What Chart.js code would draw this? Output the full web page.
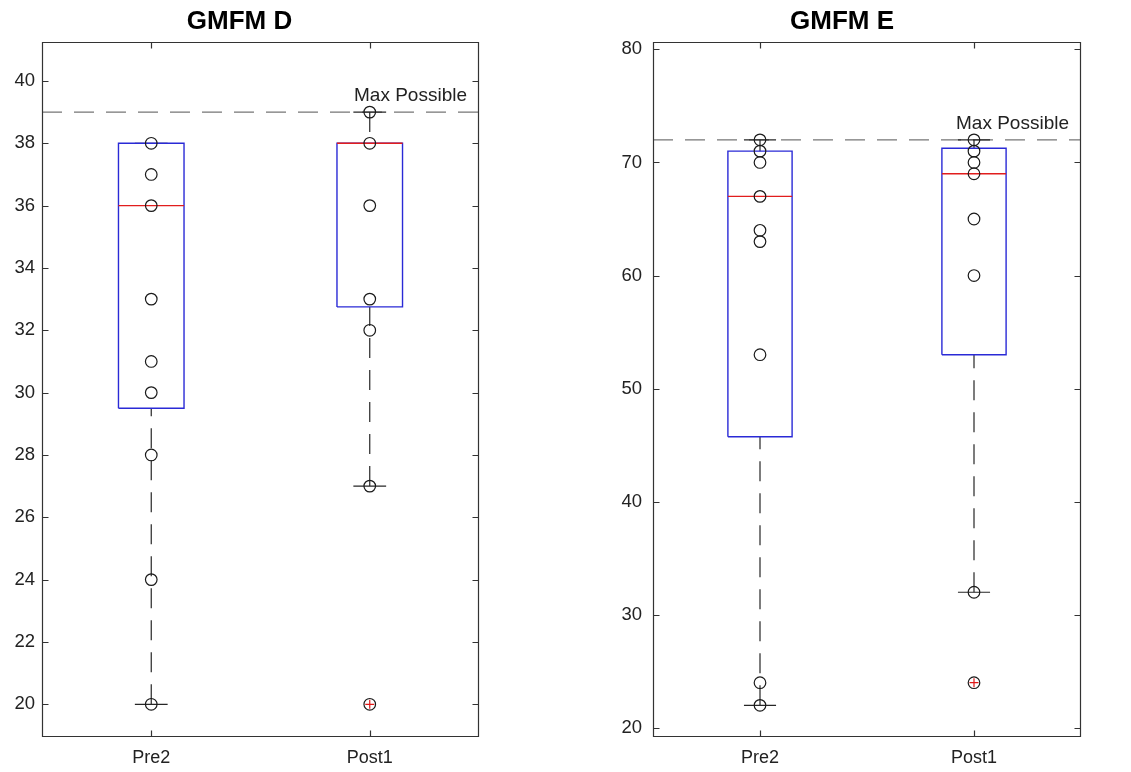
<!DOCTYPE html>
<html>
<head>
<meta charset="utf-8">
<script src="https://cdn.jsdelivr.net/npm/chart.js@4.4.1/dist/chart.umd.min.js"></script>
<style>
  html, body { margin: 0; padding: 0; background: #fff; }
  body { width: 1131px; height: 772px; position: relative; overflow: hidden; }
  .wrap { position: absolute; top: 0; height: 772px; }
  #wrapD { left: 0; width: 521px; }
  #wrapE { left: 603px; width: 528px; }
</style>
</head>
<body>
<div class="wrap" id="wrapD"><canvas id="chartD"></canvas></div>
<div class="wrap" id="wrapE"><canvas id="chartE"></canvas></div>
<script>
// ---------- DATA ----------
const categories = ['Pre2', 'Post1'];

// GMFM D
const dTitle = 'GMFM D';
const dYTicks = [20, 22, 24, 26, 28, 30, 32, 34, 36, 38, 40];
const dYRange = [18.95, 41.25];
const dPre2Points = [38, 37, 36, 33, 31, 30, 28, 24, 20];
const dPost1Points = [39, 38, 36, 33, 32, 27, 20];
const dQ1 = [29.5, 32.75];
const dMedian = [36, 38];
const dQ3 = [38, 38];
const dWhiskerLow = [20, 27];
const dWhiskerHigh = [38, 39];
const dOutliers = [[], [20]];
const dMaxPossible = 39;

// GMFM E
const eTitle = 'GMFM E';
const eYTicks = [20, 30, 40, 50, 60, 70, 80];
const eYRange = [19.2, 80.65];
const ePre2Points = [72, 71, 70, 67, 64, 63, 53, 24, 22];
const ePost1Points = [72, 71, 70, 69, 65, 60, 32, 24];
const eQ1 = [45.75, 53];
const eMedian = [67, 69];
const eQ3 = [71, 71.25];
const eWhiskerLow = [22, 32];
const eWhiskerHigh = [72, 72];
const eOutliers = [[], [24]];
const eMaxPossible = 72;

const maxLabel = 'Max Possible';

// ---------- STYLE ----------
const FONT = '"Liberation Sans", Arial, Helvetica, sans-serif';
const BOX_HALF = 0.15;
const CAP_HALF = 0.075;
const AXIS_COLOR = '#333333';
const TEXT_COLOR = '#222222';

Chart.defaults.font.family = FONT;
Chart.defaults.color = TEXT_COLOR;

function lineDS(points, color, width, dash, order) {
  return {
    type: 'line', data: points, showLine: true, borderColor: color,
    borderWidth: width, borderDash: dash || [], pointRadius: 0,
    fill: false, tension: 0, order: order
  };
}

function buildDatasets(groups, q1, med, q3, wLo, wHi, outliers, maxVal) {
  const ds = [];
  ds.push(lineDS([{x: 0.5, y: maxVal}, {x: 2.5, y: maxVal}], '#767676', 1.2, [20, 12], 9));
  groups.forEach((pts, i) => {
    const c = i + 1;
    ds.push(lineDS([{x: c, y: wLo[i]}, {x: c, y: q1[i]}], '#262626', 1.2, [20, 12], 8));
    ds.push(lineDS([{x: c, y: wHi[i]}, {x: c, y: q3[i]}], '#262626', 1.2, [20, 12], 8));
    ds.push(lineDS([{x: c - CAP_HALF, y: wLo[i]}, {x: c + CAP_HALF, y: wLo[i]}], '#262626', 1.2, [], 7));
    ds.push(lineDS([{x: c - CAP_HALF, y: wHi[i]}, {x: c + CAP_HALF, y: wHi[i]}], '#262626', 1.2, [], 7));
    ds.push(lineDS([
      {x: c - BOX_HALF, y: q1[i]}, {x: c - BOX_HALF, y: q3[i]},
      {x: c + BOX_HALF, y: q3[i]}, {x: c + BOX_HALF, y: q1[i]},
      {x: c - BOX_HALF, y: q1[i]}
    ], '#2a2ad6', 1.4, [], 6));
    ds.push(lineDS([{x: c - BOX_HALF, y: med[i]}, {x: c + BOX_HALF, y: med[i]}], '#e11d1d', 1.4, [], 5));
    if (outliers[i].length) {
      ds.push({
        type: 'scatter', data: outliers[i].map(v => ({x: c, y: v})),
        pointStyle: 'cross', pointRadius: 4.5, borderColor: '#e01818',
        borderWidth: 1.2, order: 4
      });
    }
    ds.push({
      type: 'scatter', data: pts.map(v => ({x: c, y: v})),
      pointStyle: 'circle', pointRadius: 5.8, pointBorderColor: '#1a1a1a',
      pointBackgroundColor: 'rgba(0,0,0,0)', pointBorderWidth: 1.2, order: 3
    });
  });
  return ds;
}

const framePlugin = {
  id: 'matlabFrame',
  afterDatasetsDraw(chart, args, opts) {
    const {ctx, chartArea: a, scales} = chart;
    ctx.save();
    ctx.strokeStyle = AXIS_COLOR;
    ctx.lineWidth = 1.2;
    const L = Math.round(a.left) + 0.5, R = Math.round(a.right) - 0.5;
    const T = Math.round(a.top) + 0.5, B = Math.round(a.bottom) - 0.5;
    ctx.beginPath();
    ctx.rect(L, T, R - L, B - T);
    scales.y.ticks.forEach(t => {
      const y = Math.round(scales.y.getPixelForValue(t.value)) + 0.5;
      ctx.moveTo(L, y); ctx.lineTo(L + 6, y);
      ctx.moveTo(R, y); ctx.lineTo(R - 6, y);
    });
    scales.x.ticks.forEach(t => {
      const x = Math.round(scales.x.getPixelForValue(t.value)) + 0.5;
      ctx.moveTo(x, T); ctx.lineTo(x, T + 6);
      ctx.moveTo(x, B); ctx.lineTo(x, B - 6);
    });
    ctx.stroke();
    ctx.fillStyle = TEXT_COLOR;
    ctx.font = '19px ' + FONT;
    ctx.textAlign = 'right';
    ctx.textBaseline = 'middle';
    ctx.fillText(opts.label, a.right - 12, scales.y.getPixelForValue(opts.maxValue) - 16);
    ctx.restore();
  }
};

function makeChart(id, title, groups, q1, med, q3, wLo, wHi, outliers, maxVal, yTicks, yRange, yAxisWidth, yPad, rightPad) {
  return new Chart(document.getElementById(id), {
    type: 'scatter',
    data: { datasets: buildDatasets(groups, q1, med, q3, wLo, wHi, outliers, maxVal) },
    plugins: [framePlugin],
    options: {
      responsive: true, maintainAspectRatio: false, animation: false, events: [],
      layout: { padding: { left: 0, right: rightPad, top: 0, bottom: 0 } },
      plugins: {
        legend: { display: false },
        tooltip: { enabled: false },
        title: {
          display: true, text: title, color: '#000',
          font: { size: 26, weight: 'bold', family: FONT },
          padding: { top: 6, bottom: 4.8 }
        },
        matlabFrame: { label: maxLabel, maxValue: maxVal }
      },
      scales: {
        x: {
          type: 'linear', min: 0.5, max: 2.5,
          grid: { display: false, drawTicks: false },
          border: { display: false },
          afterBuildTicks: ax => { ax.ticks = categories.map((c, i) => ({ value: i + 1 })); },
          afterFit: ax => { ax.height = 35; },
          ticks: {
            padding: 10, maxRotation: 0, autoSkip: false, color: TEXT_COLOR,
            font: { size: 18 },
            callback: v => categories[Math.round(v) - 1]
          }
        },
        y: {
          type: 'linear', min: yRange[0], max: yRange[1],
          grid: { display: false, drawTicks: false },
          border: { display: false },
          afterBuildTicks: ax => { ax.ticks = yTicks.map(v => ({ value: v })); },
          afterFit: ax => { ax.width = yAxisWidth; },
          ticks: {
            padding: yPad, autoSkip: false, color: TEXT_COLOR,
            font: { size: 18.5 },
            callback: v => String(v)
          }
        }
      }
    }
  });
}

makeChart('chartD', dTitle, [dPre2Points, dPost1Points], dQ1, dMedian, dQ3, dWhiskerLow, dWhiskerHigh, dOutliers, dMaxPossible, dYTicks, dYRange, 42, 7, 42);
makeChart('chartE', eTitle, [ePre2Points, ePost1Points], eQ1, eMedian, eQ3, eWhiskerLow, eWhiskerHigh, eOutliers, eMaxPossible, eYTicks, eYRange, 50, 11, 50);
</script>
</body>
</html>
